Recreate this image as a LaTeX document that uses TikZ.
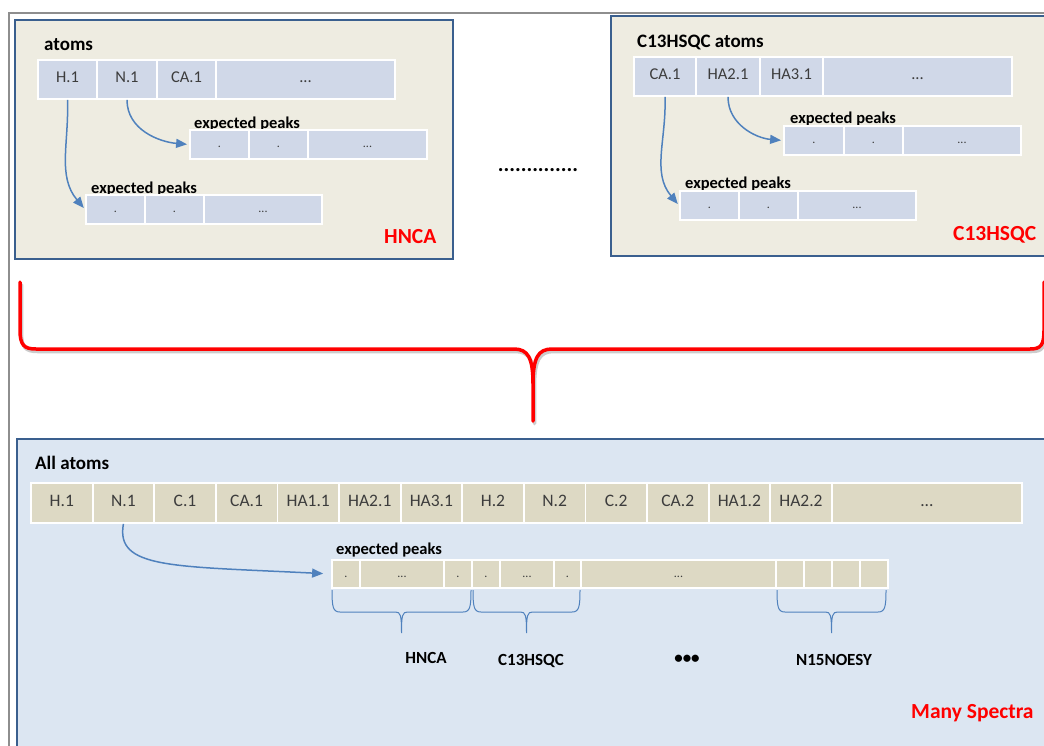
\documentclass[tikz,border=0pt]{standalone}
\usepackage{fontspec}
\setmainfont{Carlito}
\usepackage{tikz}
\usetikzlibrary{arrows.meta}

\definecolor{frameGray}{HTML}{8E8E8E}
\definecolor{panelBorder}{HTML}{3A5F8E}
\definecolor{panelTan}{HTML}{EEECE1}
\definecolor{panelBlue}{HTML}{DCE6F2}
\definecolor{cellBlue}{HTML}{D0D8E8}
\definecolor{cellTan}{HTML}{DDD9C4}
\definecolor{linkBlue}{HTML}{4F81BD}
\definecolor{textDark}{HTML}{3C3C3C}
\definecolor{spectrumRed}{HTML}{FF0000}

\begin{document}
\begin{tikzpicture}[x=1pt,y=-1pt]

        \tikzset{
            panel/.style={draw=panelBorder, line width=2.6pt},
            atomcell/.style={
                draw=white, line width=1.8pt, inner sep=0pt,
                text=textDark, text height=0.65em, text depth=0pt,
                font=\fontsize{16.5}{16.5}\selectfont
            },
            topcell/.style={atomcell, fill=cellBlue},
            allcell/.style={atomcell, fill=cellTan, font=\fontsize{17.5}{17.5}\selectfont},
            peakcell/.style={atomcell, fill=cellBlue, font=\fontsize{12}{12}\selectfont},
            allpeak/.style={atomcell, fill=cellTan, font=\fontsize{12}{12}\selectfont},
            boxtitle/.style={anchor=base west, inner sep=0pt, font=\bfseries\fontsize{19}{19}\selectfont},
            peaktitle/.style={anchor=base west, inner sep=0pt, font=\bfseries\fontsize{16.5}{16.5}\selectfont},
            spectrum/.style={anchor=base west, inner sep=0pt, text=spectrumRed,
                font=\bfseries\fontsize{21.5}{21.5}\selectfont},
            speclabel/.style={anchor=base, inner sep=0pt, font=\bfseries\fontsize{17}{17}\selectfont},
            link/.style={draw=linkBlue, line width=1.5pt, -{Triangle[length=11pt,width=9pt]}},
            specbrace/.style={draw=linkBlue, line width=1pt},
            bigbrace/.style={draw=spectrumRed, line width=3.5pt, line join=round, line cap=round}
        }

        % one cell of a table: name, left, top, right, bottom, style, text
        \newcommand{\AtomCell}[7]{
            \node[#6, minimum width={(#4-#2)*1pt}, minimum height={(#5-#3)*1pt}]
                (#1) at ({(#2+#4)/2},{(#3+#5)/2}) {#7};
        }

        % brace under a group of peak cells: left, right
        \newcommand{\SpecBrace}[2]{
            \pgfmathsetmacro{\bm}{(#1+#2)/2}
            \draw[specbrace] (#1,590) .. controls (#1,607) and ({#1+1},612) .. ({#1+8},612)
                -- ({\bm-6},612) .. controls ({\bm-1},612) and (\bm,615) .. (\bm,633)
                .. controls (\bm,615) and ({\bm+1},612) .. ({\bm+6},612)
                -- ({#2-8},612) .. controls ({#2-1},612) and (#2,607) .. (#2,590);
        }

        \newcommand{\BracePath}{
            (20,282) -- (20,330) .. controls (20,345) and (24,349) .. (36,349)
            -- (514,349) .. controls (528,349) and (533,358) .. (533,384) -- (533,421)
            -- (533,384) .. controls (533,358) and (538,349) .. (552,349)
            -- (1030,349) .. controls (1041,349) and (1044,345) .. (1044,330) -- (1044,282)
        }

        \useasboundingbox (0,0) rectangle (1044,745);
        \clip (0,0) rectangle (1044,745);

        \draw[frameGray, line width=1.6pt] (9,760) -- (9,13) -- (1060,13);

        % HNCA panel
        \filldraw[panel, fill=panelTan] (15,20) rectangle (453,259);
        \node[boxtitle] (hnTitle) at (44,50) {atoms};
        \AtomCell{hnH}{38}{60}{97}{99}{topcell}{H.1}
        \AtomCell{hnN}{97}{60}{157}{99}{topcell}{N.1}
        \AtomCell{hnCA}{157}{60}{216}{99}{topcell}{CA.1}
        \AtomCell{hnMore}{216}{60}{395}{99}{topcell}{...}

        \node[peaktitle] (hnNLbl) at (194,128) {expected peaks};
        \AtomCell{hnNa}{190}{130}{249}{159}{peakcell}{.}
        \AtomCell{hnNb}{249}{130}{308}{159}{peakcell}{.}
        \AtomCell{hnNc}{308}{130}{427}{159}{peakcell}{...}

        \node[peaktitle] (hnHLbl) at (91,193) {expected peaks};
        \AtomCell{hnHa}{86}{195}{145}{224}{peakcell}{.}
        \AtomCell{hnHb}{145}{195}{204}{224}{peakcell}{.}
        \AtomCell{hnHc}{204}{195}{322}{224}{peakcell}{...}

        \draw[link, shorten >=2pt] (hnH.south) to[out=-88, in=130] (hnHa.west);
        \draw[link, shorten >=2pt] (hnN.south) to[out=-90, in=175] (hnNa.west);
        \node[spectrum] (hnName) at (384,243) {HNCA};

        \node[anchor=base, font=\bfseries\fontsize{21.5}{21.5}\selectfont] (more) at (538,171) {..............};

        % C13HSQC panel
        \filldraw[panel, fill=panelTan] (611,16) rectangle (1060,256);
        \node[boxtitle] (hsTitle) at (637,47) {C13HSQC atoms};
        \AtomCell{hsCA}{634}{57}{696}{96}{topcell}{CA.1}
        \AtomCell{hsHA2}{696}{57}{760}{96}{topcell}{HA2.1}
        \AtomCell{hsHA3}{760}{57}{823}{96}{topcell}{HA3.1}
        \AtomCell{hsMore}{823}{57}{1012}{96}{topcell}{...}

        \node[peaktitle] (hsHALbl) at (790,123) {expected peaks};
        \AtomCell{hsHAa}{784}{126}{844}{155}{peakcell}{.}
        \AtomCell{hsHAb}{844}{126}{903}{155}{peakcell}{.}
        \AtomCell{hsHAc}{903}{126}{1021}{155}{peakcell}{...}

        \node[peaktitle] (hsCALbl) at (685,188) {expected peaks};
        \AtomCell{hsCAa}{680}{191}{739}{220}{peakcell}{.}
        \AtomCell{hsCAb}{739}{191}{798}{220}{peakcell}{.}
        \AtomCell{hsCAc}{798}{191}{916}{220}{peakcell}{...}

        \draw[link, shorten >=2pt] (hsCA.south) to[out=-88, in=130] (hsCAa.west);
        \draw[link, shorten >=2pt] (hsHA2.south) to[out=-90, in=175] (hsHAa.west);
        \node[spectrum] (hsName) at (953,240) {C13HSQC};

        % red brace joining the spectra
        \draw[bigbrace, draw=black, opacity=0.2] [shift={(1.5,2.5)}] \BracePath;
        \draw[bigbrace] \BracePath;

        % all spectra panel
        \filldraw[panel, fill=panelBlue] (17,439) rectangle (1060,760);
        \node[boxtitle] (allTitle) at (35,469) {All atoms};
        \foreach \lbl [count=\i] in {H.1,N.1,C.1,CA.1,HA1.1,HA2.1,HA3.1,H.2,N.2,C.2,CA.2,HA1.2,HA2.2}
            \node[allcell, minimum width=61.6pt, minimum height=40pt] (all\i) at ({31+61.6*(\i-0.5)},503) {\lbl};
        \AtomCell{allMore}{831.8}{483}{1022}{523}{allcell}{...}

        \node[peaktitle] (allLbl) at (336,554) {expected peaks};
        \AtomCell{pk1}{332}{560}{360}{588}{allpeak}{.}
        \AtomCell{pk2}{360}{560}{444}{588}{allpeak}{...}
        \AtomCell{pk3}{444}{560}{472}{588}{allpeak}{.}
        \AtomCell{pk4}{472}{560}{500}{588}{allpeak}{.}
        \AtomCell{pk5}{500}{560}{554}{588}{allpeak}{...}
        \AtomCell{pk6}{554}{560}{581}{588}{allpeak}{.}
        \AtomCell{pk7}{581}{560}{776}{588}{allpeak}{...}
        \AtomCell{pk8}{776}{560}{804}{588}{allpeak}{}
        \AtomCell{pk9}{804}{560}{832}{588}{allpeak}{}
        \AtomCell{pk10}{832}{560}{860}{588}{allpeak}{}
        \AtomCell{pk11}{860}{560}{888}{588}{allpeak}{}

        \draw[link, shorten >=8pt] (all2.south) .. controls +(-8,45) and +(-160,-8) .. (pk1.west);

        \SpecBrace{332}{471}
        \SpecBrace{473}{580}
        \SpecBrace{777}{886}

        \node[speclabel] (hncaSpec) at (426,663) {HNCA};
        \node[speclabel] (hsqcSpec) at (531,665) {C13HSQC};
        \node[speclabel] (moreSpec) at (687,663) {•••};
        \node[speclabel] (noesySpec) at (834,665) {N15NOESY};
        \node[spectrum] (allName) at (911,718) {Many Spectra};

\end{tikzpicture}
\end{document}
